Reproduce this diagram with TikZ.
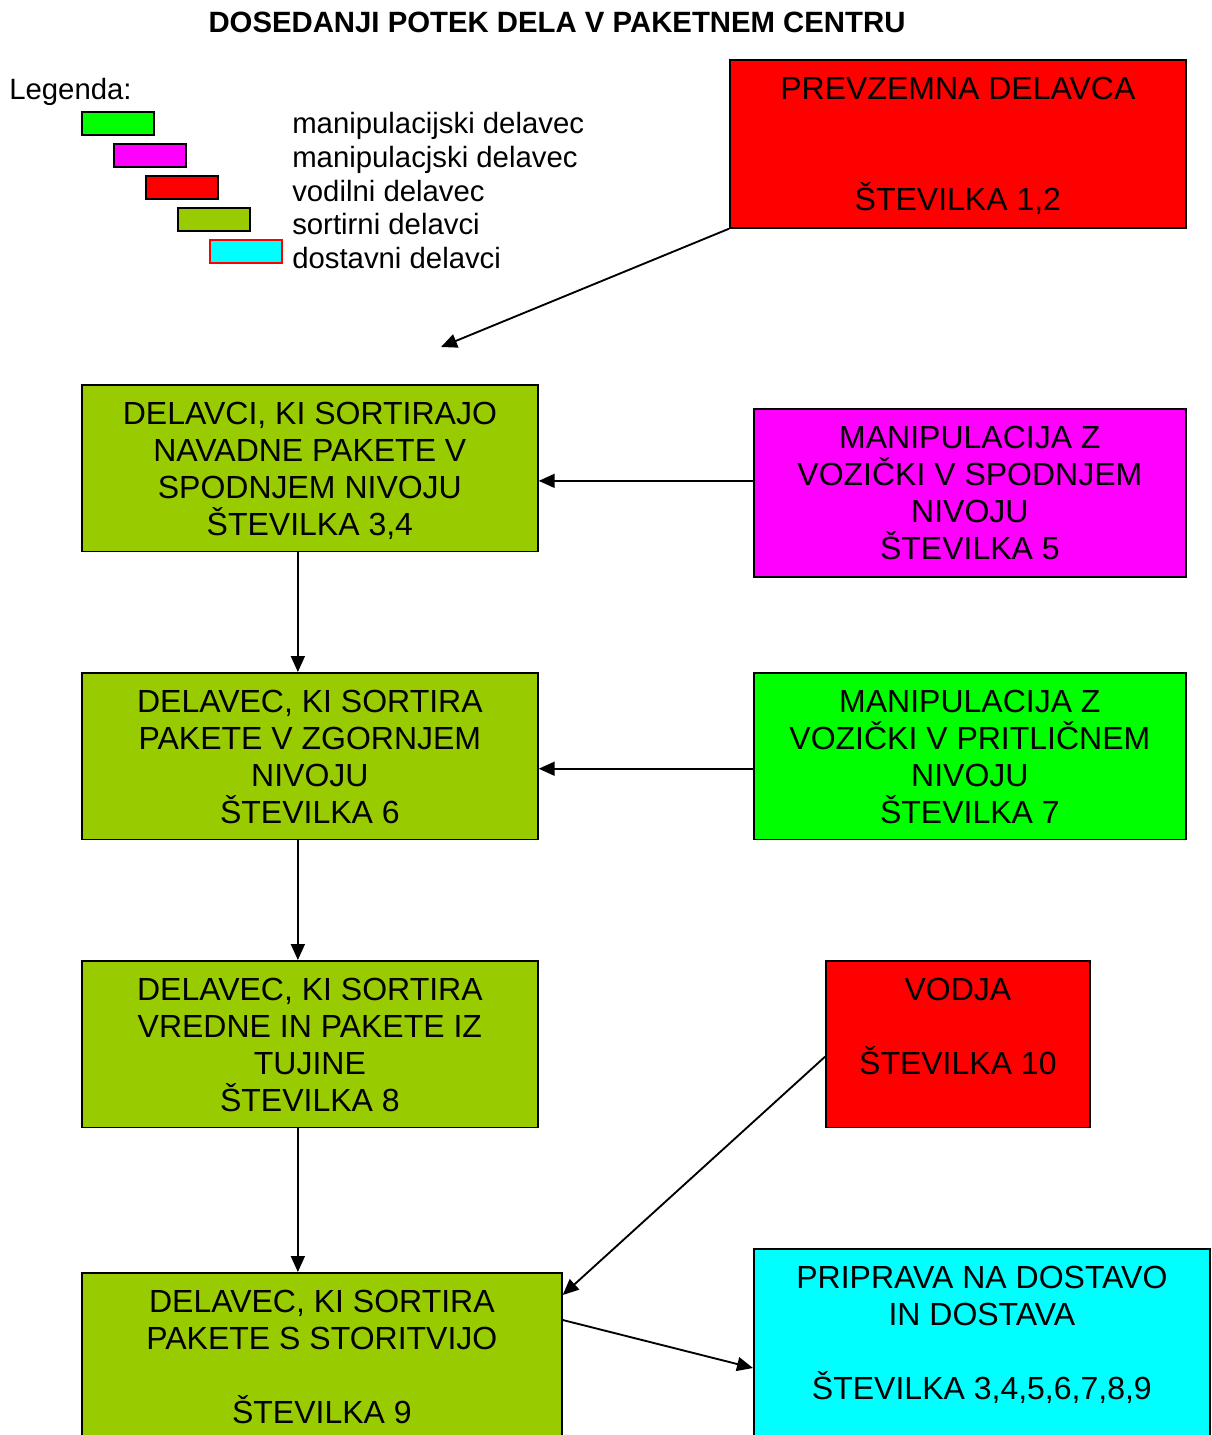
\documentclass[tikz,border=0pt]{standalone}
\usepackage{fontspec}
\setmainfont{Liberation Sans}
\usetikzlibrary{arrows.meta}
\definecolor{olive}{HTML}{99CC00}
\definecolor{mag}{HTML}{FF00FF}
\definecolor{redbox}{HTML}{FF0000}
\definecolor{lime}{HTML}{00FF00}
\definecolor{aqua}{HTML}{00FFFF}
\tikzset{
  box/.style={draw=black, line width=1.3pt, anchor=north west, inner sep=0pt},
  boxtext/.style={anchor=north, inner sep=0pt, align=center,
    font=\fontsize{24pt}{27.75pt}\selectfont},
  legbox/.style={draw=black, line width=1.3pt, anchor=north west, inner sep=0pt,
    minimum width=54pt, minimum height=17.25pt},
  legtext/.style={anchor=west, inner sep=0pt, font=\fontsize{22pt}{25.5pt}\selectfont},
  arr/.style={line width=1.4pt, -{Triangle[length=12pt,width=10.5pt]}},
}
\begin{document}
\begin{tikzpicture}[x=0.75pt,y=-0.75pt]
\clip (0,0) rectangle (1211,1435);

% title
\node[inner sep=0pt, font=\bfseries\fontsize{22pt}{26pt}\selectfont] (title) at (557,22)
  {DOSEDANJI POTEK DELA V PAKETNEM CENTRU};

% legend
\node[legtext] (legtitle) at (9,92) {Legenda:};
\node[legbox, fill=lime]   (lg1) at (81,111) {};
\node[legbox, fill=mag]    (lg2) at (113,143) {};
\node[legbox, fill=redbox] (lg3) at (145,175) {};
\node[legbox, fill=olive]  (lg4) at (177,207) {};
\node[legbox, fill=aqua, draw=redbox] (lg5) at (209,239) {};
\node[legtext] (lt1) at (292,126) {manipulacijski delavec};
\node[legtext] (lt2) at (292,160) {manipulacjski delavec};
\node[legtext] (lt3) at (292,191) {vodilni delavec};
\node[legtext] (lt4) at (292,224) {sortirni delavci};
\node[legtext] (lt5) at (292,258) {dostavni delavci};

% boxes
\node[box, fill=redbox, minimum width=342pt, minimum height=126pt] (prev) at (729,59) {};
\node[boxtext] (prevt) at ([yshift=-13.5pt]prev.north)
  {PREVZEMNA DELAVCA\\ ~ \\ ~ \\ŠTEVILKA 1,2};

\node[box, fill=olive, minimum width=342pt, minimum height=125pt] (sa) at (81,384) {};
\node[boxtext] (sat) at ([yshift=-13.5pt]sa.north)
  {DELAVCI, KI SORTIRAJO\\NAVADNE PAKETE V\\SPODNJEM NIVOJU\\ŠTEVILKA 3,4};

\node[box, fill=mag, minimum width=324pt, minimum height=126pt] (mg) at (753,408) {};
\node[boxtext] (mgt) at ([yshift=-13.5pt]mg.north)
  {MANIPULACIJA Z\\VOZIČKI V SPODNJEM\\NIVOJU\\ŠTEVILKA 5};

\node[box, fill=olive, minimum width=342pt, minimum height=125pt] (sb) at (81,672) {};
\node[boxtext] (sbt) at ([yshift=-13.5pt]sb.north)
  {DELAVEC, KI SORTIRA\\PAKETE V ZGORNJEM\\NIVOJU\\ŠTEVILKA 6};

\node[box, fill=lime, minimum width=324pt, minimum height=125pt] (gr) at (753,672) {};
\node[boxtext] (grt) at ([yshift=-13.5pt]gr.north)
  {MANIPULACIJA Z\\VOZIČKI V PRITLIČNEM\\NIVOJU\\ŠTEVILKA 7};

\node[box, fill=olive, minimum width=342pt, minimum height=125pt] (sc) at (81,960) {};
\node[boxtext] (sct) at ([yshift=-13.5pt]sc.north)
  {DELAVEC, KI SORTIRA\\VREDNE IN PAKETE IZ\\TUJINE\\ŠTEVILKA 8};

\node[box, fill=redbox, minimum width=198pt, minimum height=125pt] (vod) at (825,960) {};
\node[boxtext] (vodt) at ([yshift=-13.5pt]vod.north)
  {VODJA\\ ~ \\ŠTEVILKA 10};

\node[box, fill=olive, minimum width=360pt, minimum height=150pt] (sd) at (81,1272) {};
\node[boxtext] (sdt) at ([yshift=-13.5pt]sd.north)
  {DELAVEC, KI SORTIRA\\PAKETE S STORITVIJO\\ ~ \\ŠTEVILKA 9};

\node[box, fill=aqua, minimum width=342pt, minimum height=160pt] (dos) at (753,1248) {};
\node[boxtext] (dost) at ([yshift=-13.5pt]dos.north)
  {PRIPRAVA NA DOSTAVO\\IN DOSTAVA\\ ~ \\ŠTEVILKA 3,4,5,6,7,8,9};

% connectors
\coordinate (drop) at (441,347);
\draw[arr] (prev.south west) -- (drop);
\draw[arr] ([xshift=-9pt]sa.south) -- ([xshift=-9pt]sb.north);
\draw[arr] ([xshift=-9pt]sb.south) -- ([xshift=-9pt]sc.north);
\draw[arr] ([xshift=-9pt]sc.south) -- ([xshift=-18pt]sd.north);
\draw[arr] ([yshift=9pt]mg.west) -- ([yshift=9pt]mg.west -| sa.east);
\draw[arr] ([yshift=-9.4pt]gr.west) -- ([yshift=-9.4pt]sb.east);
\draw[arr] ([yshift=-9.4pt]vod.west) -- ([yshift=-17.25pt]sd.north east);
\draw[arr] ([yshift=-36pt]sd.north east) -- ([yshift=-90pt]dos.north west);
\end{tikzpicture}
\end{document}
